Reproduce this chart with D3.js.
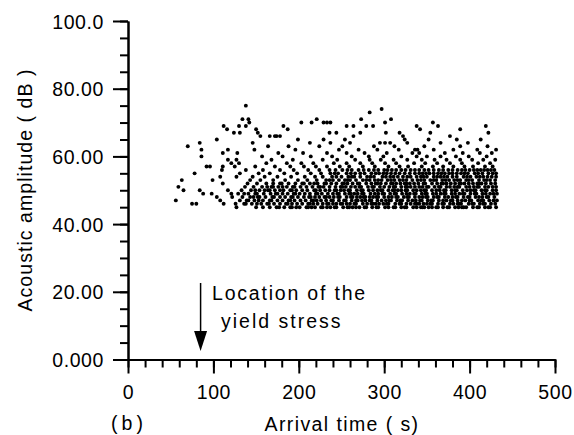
<!DOCTYPE html>
<html><head><meta charset="utf-8">
<script src="https://cdn.jsdelivr.net/npm/d3@7"></script>
<style>html,body{margin:0;padding:0;background:#fff}</style>
</head><body><svg id="c" width="574" height="435"></svg>
<script>
// Amplitude levels (dB) and arrival times (s) of the events read at each level
const amplitudeLevels = [45,46,47,48,49,50,51,52,53,54,55,56,57,58,59,60,61,62,63,64,65,66,67,68,69,70,71,73,74,75];
const arrivalTimes = [
 [127,150,158,166,174,177,183,190,192,197,201,209,211,215,219,226,228,233,237,242,244,252,257,259,263,267,271,277,279,286,291,293,301,305,311,313,320,324,326,334,338,343,345,347,352,356,361,363,369,374,376,383,387,391,393,396,404,409,411,418,422,424,431],
 [75,80,112,126,136,138,145,151,156,163,165,171,178,185,187,192,198,204,211,213,217,222,228,233,235,240,244,249,251,256,260,265,267,275,280,285,287,290,294,299,303,305,313,318,320,326,331,336,338,341,346,350,354,356,363,368,370,377,381,386,388,390,399,403,405,412,416,418,425,430],
 [56,108,131,139,141,148,153,158,166,168,175,181,188,190,195,202,208,215,217,221,226,232,238,240,247,253,255,262,267,269,274,278,283,285,292,297,302,306,308,315,319,321,328,333,337,342,344,351,355,357,364,369,373,378,380,386,391,395,400,402,410,414,416,423,428,432],
 [104,122,134,143,147,152,154,161,169,171,178,184,191,193,199,206,212,214,219,224,230,232,236,241,246,248,256,261,263,268,272,276,278,283,287,291,293,300,305,309,314,316,323,327,329,336,341,345,349,351,358,362,364,371,375,380,384,386,393,398,400,407,411,415,420,422,429],
 [88,98,121,129,136,141,149,151,159,167,173,175,181,187,194,196,201,207,213,220,222,227,234,240,245,247,254,259,261,265,269,274,276,284,289,293,298,300,307,312,314,321,326,330,335,337,344,348,350,357,361,366,370,372,379,383,388,392,394,401,406,408,415,419,424,428,432],
 [65,84,117,133,144,149,154,160,164,166,172,178,182,190,192,197,204,210,218,220,225,231,236,242,244,249,253,258,260,268,273,275,282,287,292,296,298,305,310,312,316,320,325,327,334,338,343,347,349,356,361,365,370,372,379,383,385,392,397,401,405,407,414,418,420,427,431],
 [59,137,147,157,163,168,170,176,181,186,193,195,202,209,216,223,225,229,236,243,249,251,255,261,266,271,273,281,286,288,295,300,306,311,313,320,325,327,331,336,341,345,350,352,359,364,366,373,377,382,386,388,396,400,405,409,411,418,422,427,431],
 [111,140,151,162,170,178,180,188,196,204,206,213,218,222,230,232,238,244,251,253,257,263,269,271,279,285,290,292,296,302,308,310,314,319,324,326,330,335,340,346,348,356,362,367,369,373,378,383,388,390,394,399,404,409,411,414,419,425,430],
 [63,99,143,155,170,184,199,210,221,232,236,240,247,254,257,260,267,275,279,283,289,293,297,304,308,312,318,322,326,333,339,343,347,354,358,361,368,372,376,382,386,389,396,399,403,411,417,420,424,430],
 [108,127,146,160,175,191,207,219,228,239,244,250,258,262,265,272,280,284,288,298,302,307,311,316,322,327,331,338,343,346,350,358,362,366,370,374,380,385,393,397,401,408,412,416,421,426,431],
 [78,131,153,166,183,198,214,226,237,242,246,256,261,266,272,277,285,290,294,299,303,308,313,318,324,330,336,341,345,349,353,358,363,367,371,376,380,385,390,394,398,406,410,415,422,427,431],
 [110,138,158,178,194,211,224,236,243,251,257,262,270,276,282,288,293,300,304,309,314,320,325,331,336,341,347,352,358,364,369,375,380,386,391,395,400,405,409,413,417,421,425,429],
 [92,96,111,125,149,172,190,206,220,233,248,259,275,289,305,318,328,344,357,369,381,394,404,418,427],
 [121,130,162,186,203,217,241,256,272,286,301,314,335,348,362,377,391,410,424],
 [117,127,168,193,228,245,266,283,296,311,327,344,359,373,389,403,416,430],
 [86,157,181,214,239,262,282,299,320,338,350,366,384,399,420],
 [111,128,176,205,233,256,277,303,333,341,371,392,412,426],
 [86,117,148,196,247,270,292,317,336,339,358,381,409,431],
 [70,164,188,224,251,288,312,347,389,421],
 [84,146,213,237,260,295,301,307,327,366,398],
 [104,199,229,254,324,352,385,413],
 [155,166,172,174,178,264,322,377],
 [124,131,152,236,244,272,302,318,354,422],
 [116,150,187,342,389],
 [112,130,138,182,256,264,279,287,338,363,419],
 [142,203,215,229,233,237,301,357],
 [134,141,221,273,308],
 [283],
 [297],
 [138]
];
const xTickValues = [0,100,200,300,400,500];
const xTickLabels = ["0","100","200","300","400","500"];
const yTickValues = [0,20,40,60,80,100];
const yTickLabels = ["0.000","20.00","40.00","60.00","80.00","100.0"];
const xTitle = "Arrival time ( s)";
const yTitle = "Acoustic amplitude ( dB )";
const panelLabel = "(b)";
const noteLines = ["Location of the","yield stress"];
const noteTime = 85;

const svg = d3.select("#c");
const FONT = "'Liberation Sans', Arial, Helvetica, sans-serif";
const x = d3.scaleLinear().domain([0,500]).range([128,555]);
const y = d3.scaleLinear().domain([0,100]).range([359.5,21]);

const points = [];
amplitudeLevels.forEach((a,i)=>arrivalTimes[i].forEach(t=>points.push([t,a])));

svg.append("g").selectAll("circle").data(points).join("circle")
  .attr("cx",d=>x(d[0])).attr("cy",d=>y(d[1])).attr("r",1.95).attr("fill","#000");

// minor ticks
const gxm = svg.append("g").attr("transform",`translate(0,${y(0)})`)
  .call(d3.axisBottom(x).tickValues(d3.range(0,501,20)).tickSize(8).tickSizeOuter(0).tickFormat(""));
const gym = svg.append("g").attr("transform",`translate(${x(0)},0)`)
  .call(d3.axisLeft(y).tickValues(d3.range(0,101,5)).tickSize(8).tickSizeOuter(0).tickFormat(""));
// major ticks
const gx = svg.append("g").attr("transform",`translate(0,${y(0)})`)
  .call(d3.axisBottom(x).tickValues(xTickValues).tickSize(14).tickSizeOuter(0).tickPadding(12)
    .tickFormat((d,i)=>xTickLabels[i]));
const gy = svg.append("g").attr("transform",`translate(${x(0)},0)`)
  .call(d3.axisLeft(y).tickValues(yTickValues).tickSize(15).tickSizeOuter(0).tickPadding(9)
    .tickFormat((d,i)=>yTickLabels[i]));
[gxm,gym,gx,gy].forEach(g=>{
  g.selectAll("path.domain").attr("stroke","#000").attr("stroke-width",2);
  g.selectAll(".tick line").attr("stroke","#000").attr("stroke-width",2);
  g.selectAll("text").attr("fill","#000").style("font-family",FONT).style("font-size","19.5px");
});
gx.selectAll("text").style("letter-spacing","0.6px");
gy.selectAll("text").style("letter-spacing","0.6px").attr("dy","0.36em");

svg.append("text").attr("x",342).attr("y",431).attr("text-anchor","middle")
  .style("font-family",FONT).style("font-size","19.5px").style("letter-spacing","1.4px").text(xTitle);
svg.append("text").attr("x",129).attr("y",430).attr("text-anchor","middle")
  .style("font-family",FONT).style("font-size","19.5px").style("letter-spacing","4px").text(panelLabel);
svg.append("text").attr("transform","translate(32,190) rotate(-90)").attr("text-anchor","middle")
  .style("font-family",FONT).style("font-size","19.5px").style("letter-spacing","1.05px").text(yTitle);

// annotation arrow
const ax = x(noteTime);
svg.append("line").attr("x1",ax).attr("x2",ax).attr("y1",283).attr("y2",336)
  .attr("stroke","#000").attr("stroke-width",1.5);
svg.append("path").attr("d",`M${ax-6.5},331 L${ax+6.5},331 L${ax},351 Z`).attr("fill","#000");
svg.append("text").attr("x",212).attr("y",300)
  .style("font-family",FONT).style("font-size","19.5px").style("letter-spacing","1.8px").text(noteLines[0]);
svg.append("text").attr("x",221).attr("y",328)
  .style("font-family",FONT).style("font-size","19.5px").style("letter-spacing","2px").text(noteLines[1]);
</script></body></html>
